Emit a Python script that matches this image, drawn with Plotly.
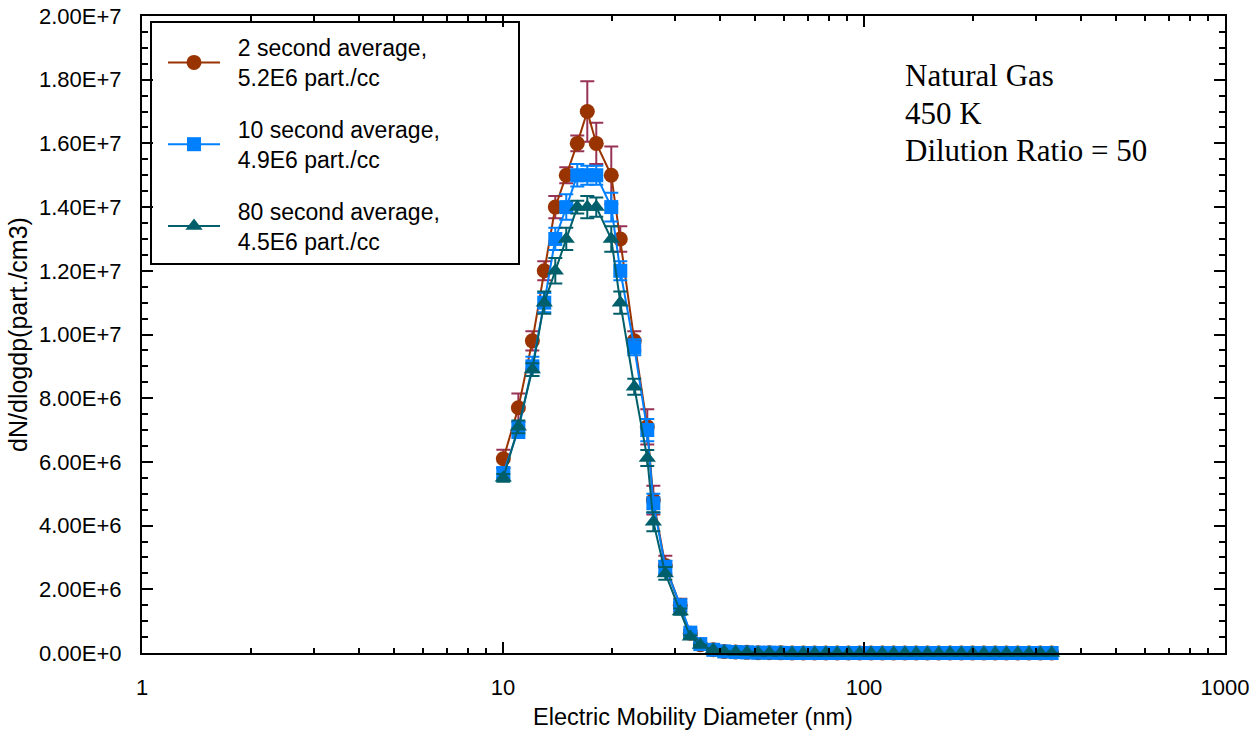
import plotly.graph_objects as go

# Electric mobility diameter bins (nm)
diameter_nm = [10.02, 11.03, 12.06, 13.01, 13.96, 14.97, 16.06, 17.12, 18.13, 19.95,
               21.13, 23.1, 25.1, 26.09, 28.16, 30.98, 33.03, 35.2, 38.24, 41.0,
               44.1, 47.4, 50.9, 54.7, 58.8, 63.2, 67.9, 73.0, 78.4, 84.3,
               90.6, 97.3, 104.6, 112.4, 120.8, 129.8, 139.5, 149.9, 161.1, 173.1,
               186.0, 199.9, 214.8, 230.9, 248.1, 266.6, 286.5, 307.9, 330.9]

# dN/dlogdp in units of 1e6 part./cm3
avg_2s = [6.1, 7.7, 9.8, 12.0, 14.0, 15.0, 16.0, 17.0, 16.0, 15.0,
          13.0, 9.8, 7.1, 4.8, 2.75, 1.5, 0.62, 0.26, 0.1, 0.05,
          0.03, 0.02, 0.01, 0.01, 0.005, 0, 0, 0, 0, 0,
          0, 0, 0, 0, 0, 0, 0, 0, 0, 0,
          0, 0, 0, 0, 0, 0, 0, 0, 0]
avg_10s = [5.65, 7.0, 9.0, 11.0, 13.0, 14.0, 15.0, 15.0, 15.0, 14.0,
           12.0, 9.6, 7.0, 4.7, 2.7, 1.5, 0.64, 0.28, 0.1, 0.05,
           0.03, 0.02, 0.01, 0.01, 0.005, 0, 0, 0, 0, 0,
           0, 0, 0, 0, 0, 0, 0, 0, 0, 0,
           0, 0, 0, 0, 0, 0, 0, 0, 0]
avg_80s = [5.5, 7.1, 8.9, 11.0, 12.0, 13.0, 14.0, 14.0, 14.0, 13.0,
           11.0, 8.36, 6.12, 4.12, 2.5, 1.3, 0.51, 0.25, 0.1, 0.05,
           0.03, 0.02, 0.01, 0.01, 0.005, 0, 0, 0, 0, 0,
           0, 0, 0, 0, 0, 0, 0, 0, 0, 0,
           0, 0, 0, 0, 0, 0, 0, 0, 0]

# Standard deviations (1e6 part./cm3) for the peak region; tail is zero
err_2s = [0.28, 0.45, 0.3, 0.3, 0.35, 0.25, 0.25, 0.95, 0.65, 0.9,
          0.4, 0.3, 0.55, 0.45, 0.3, 0.2, 0.1, 0.05, 0.02]
err_10s = [0.15, 0.25, 0.3, 0.3, 0.35, 0.4, 0.35, 0.3, 0.3, 0.45,
           0.3, 0.25, 0.35, 0.3, 0.2, 0.1, 0.05, 0.02, 0.01]
err_80s = [0.12, 0.2, 0.2, 0.35, 0.4, 0.35, 0.2, 0.35, 0.3, 0.4,
           0.35, 0.25, 0.25, 0.3, 0.2, 0.1, 0.05, 0.02, 0.01]

series_names = ["2 second average,", "10 second average,", "80 second average,"]
series_totals = ["5.2E6 part./cc", "4.9E6 part./cc", "4.5E6 part./cc"]

y_tickvals = [0, 2e6, 4e6, 6e6, 8e6, 1e7, 1.2e7, 1.4e7, 1.6e7, 1.8e7, 2e7]
y_ticktext = ["0.00E+0", "2.00E+6", "4.00E+6", "6.00E+6", "8.00E+6", "1.00E+7",
              "1.20E+7", "1.40E+7", "1.60E+7", "1.80E+7", "2.00E+7"]
x_tickvals = [1, 10, 100, 1000]
x_ticktext = ["1", "10", "100", "1000"]
x_minor = [m * d for d in (1, 10, 100) for m in range(2, 10)]

x_title = "Electric Mobility Diameter (nm)"
y_title = "dN/dlogdp(part./cm3)"
info_lines = ["Natural Gas", "450 K", "Dilution Ratio = 50"]

W, H = 1260, 731
ML, MR, MT, MB = 142, 35, 16, 78
PW, PH = W - ML - MR, H - MT - MB


def px_x(p):
    return (p - ML) / PW


def px_y(p):
    return (H - MB - p) / PH


def full_err(e):
    return [v * 1e6 for v in e] + [0] * (len(diameter_nm) - len(e))


styles = [
    dict(vals=avg_2s, err=err_2s, line="#993300", ebar="#993355",
         symbol="circle", size=15),
    dict(vals=avg_10s, err=err_10s, line="#0080FF", ebar="#0080FF",
         symbol="square", size=14),
    dict(vals=avg_80s, err=err_80s, line="#005F6A", ebar="#005F6A",
         symbol="triangle-up", size=15),
]

PAD = "\u00a0\u00a0"

fig = go.Figure()
for i, st in enumerate(styles):
    label = PAD + series_names[i] + "<br>" + PAD + series_totals[i]
    fig.add_trace(go.Scatter(
        x=diameter_nm,
        y=[v * 1e6 for v in st["vals"]],
        name=label,
        legendgroup=f"g{i}",
        mode="lines+markers",
        cliponaxis=False,
        line=dict(color=st["line"], width=2),
        marker=dict(symbol=st["symbol"], size=st["size"], color=st["line"],
                    line=dict(width=0)),
        error_y=dict(type="data", array=full_err(st["err"]), visible=True,
                     color=st["ebar"], thickness=2, width=7),
    ))

# Legend frame
fig.add_shape(type="rect", xref="paper", yref="paper",
              x0=px_x(151), x1=px_x(519), y0=px_y(264), y1=px_y(22),
              line=dict(color="black", width=2), fillcolor="white", layer="below")

# Run conditions, top right
for k, txt in enumerate(info_lines):
    fig.add_annotation(xref="paper", yref="paper", x=px_x(903), y=px_y(75.5 + 37.5 * k),
                       xanchor="left", yanchor="middle", showarrow=False, text=txt,
                       font=dict(family="Liberation Serif, Times New Roman, serif",
                                 size=31, color="black"))

# X axis title, set slightly right of the plot centre
fig.add_annotation(xref="paper", yref="paper", x=px_x(693), y=px_y(717),
                   xanchor="center", yanchor="middle", showarrow=False, text=x_title,
                   font=dict(size=23.5, color="black"))

axis_common = dict(showline=True, linecolor="black", linewidth=2, mirror="allticks",
                   ticks="inside", tickcolor="black", tickwidth=1.5, showgrid=False,
                   zeroline=False, tickfont=dict(size=22, color="black"))

fig.update_xaxes(type="log", range=[0, 3], tickvals=x_tickvals, ticktext=x_ticktext,
                 ticklen=11, ticklabelstandoff=14,
                 minor=dict(tickvals=x_minor, ticks="inside", ticklen=5,
                            tickcolor="black", tickwidth=1.5),
                 **axis_common)
fig.update_yaxes(range=[0, 2e7], tickvals=y_tickvals, ticktext=y_ticktext,
                 ticklen=11, ticklabelstandoff=14,
                 minor=dict(dtick=5e5, ticks="inside", ticklen=6,
                            tickcolor="black", tickwidth=1.5),
                 title=dict(text=y_title, font=dict(size=25, color="black"), standoff=4),
                 **axis_common)

fig.update_layout(
    width=W, height=H,
    margin=dict(l=ML, r=MR, t=MT, b=MB, autoexpand=False),
    paper_bgcolor="white", plot_bgcolor="white",
    font=dict(family="Liberation Sans, Arial, sans-serif", color="black"),
    showlegend=True,
    legend=dict(x=px_x(163), y=px_y(26), xanchor="left", yanchor="top",
                bgcolor="rgba(0,0,0,0)", borderwidth=0,
                font=dict(size=23, color="black"), tracegroupgap=19,
                itemwidth=52),
)

fig.write_html("out.html")
